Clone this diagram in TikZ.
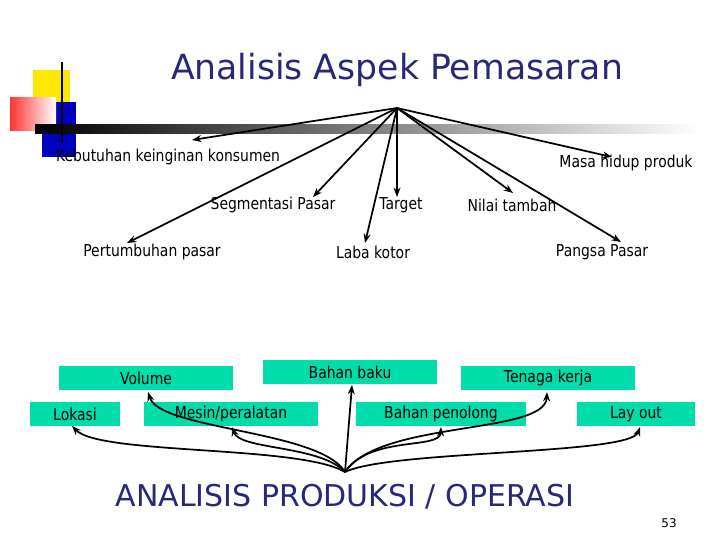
\documentclass[tikz,border=0pt]{standalone}
\usepackage{fontspec}
\setmainfont{DejaVu Sans}
\usetikzlibrary{arrows.meta}
\definecolor{boxgreen}{RGB}{0,220,170}
\definecolor{titleblue}{RGB}{40,40,120}
\tikzset{
  lbl/.style={font=\fontsize{12.3}{14}\selectfont\addfontfeatures{FakeStretch=0.85}, inner sep=1pt},
  gbox/.style={fill=boxgreen, minimum height=18pt, inner sep=0pt, font=\fontsize{12.3}{14}\selectfont\addfontfeatures{FakeStretch=0.85}},
  arr/.style={-{Stealth[length=7pt]}, line width=1.3pt}
}
\begin{document}
\begin{tikzpicture}[x=0.75pt,y=-0.75pt]
    \useasboundingbox (0,0) rectangle (720,540);
    % logo
    \fill[yellow!90!orange] (33,70) rectangle (70,106);
    \fill[blue!75!black] (42,102) rectangle (76,157);
    \shade[left color=red!80, right color=white] (10,97) rectangle (56,130);
    \shade[left color=black, right color=white] (35,124) rectangle (700,133);
    \draw[line width=1.5pt] (62,62) -- (62,143);
    \node[text=titleblue, font=\fontsize{26}{30}\selectfont] (title) at (397,70) {Analisis Aspek Pemasaran};

    % marketing aspects
    \coordinate (top) at (397,108);
    \node[lbl] (kebutuhan) at (168,157) {Kebutuhan keinginan konsumen};
    \node[lbl] (masa) at (626,163) {Masa hidup produk};
    \node[lbl] (segmen) at (273,205) {Segmentasi Pasar};
    \node[lbl] (target) at (401,205) {Target};
    \node[lbl] (nilai) at (512,205) {Nilai tambah};
    \node[lbl] (tumbuh) at (152,252) {Pertumbuhan pasar};
    \node[lbl] (laba) at (373,252) {Laba kotor};
    \node[lbl] (pangsa) at (602,252) {Pangsa Pasar};
    \draw[arr] (top) -- (192,140);
    \draw[arr] (top) -- (313,197);
    \draw[arr] (top) -- (397,197);
    \draw[arr] (top) -- (513,193);
    \draw[arr] (top) -- (612,157);
    \draw[arr] (top) -- (127,243);
    \draw[arr] (top) -- (365,243);
    \draw[arr] (top) -- (621,242);

    % production aspects
    \node[gbox, minimum width=130pt] (volume) at (146,378) {Volume};
    \node[gbox, minimum width=130pt] (baku) at (350,372) {Bahan baku};
    \node[gbox, minimum width=130pt] (tenaga) at (548,378) {Tenaga kerja};
    \node[gbox, minimum width=68pt] (lokasi) at (75,414) {Lokasi};
    \node[gbox, minimum width=130pt] (mesin) at (231,414) {Mesin/peralatan};
    \node[gbox, minimum width=128pt] (penolong) at (441,414) {Bahan penolong};
    \node[gbox, minimum width=88pt] (layout) at (636,414) {Lay out};
    \coordinate (hub) at (345,472);
    \draw[arr] (hub) .. controls (300,445) and (100,455) .. (72,426);
    \draw[arr] (hub) .. controls (320,445) and (240,450) .. (232,427);
    \draw[arr] (hub) .. controls (320,430) and (160,430) .. (148,392);
    \draw[arr] (hub) -- (352,385);
    \draw[arr] (hub) .. controls (370,435) and (440,450) .. (441,427);
    \draw[arr] (hub) .. controls (380,420) and (545,435) .. (547,392);
    \draw[arr] (hub) .. controls (390,450) and (630,455) .. (640,427);
    \node[text=titleblue, font=\fontsize{22.5}{26}\selectfont] (produksi) at (345,497) {ANALISIS PRODUKSI / OPERASI};
    \node[font=\fontsize{9}{11}\selectfont] (page) at (669,523) {53};
\end{tikzpicture}
\end{document}
